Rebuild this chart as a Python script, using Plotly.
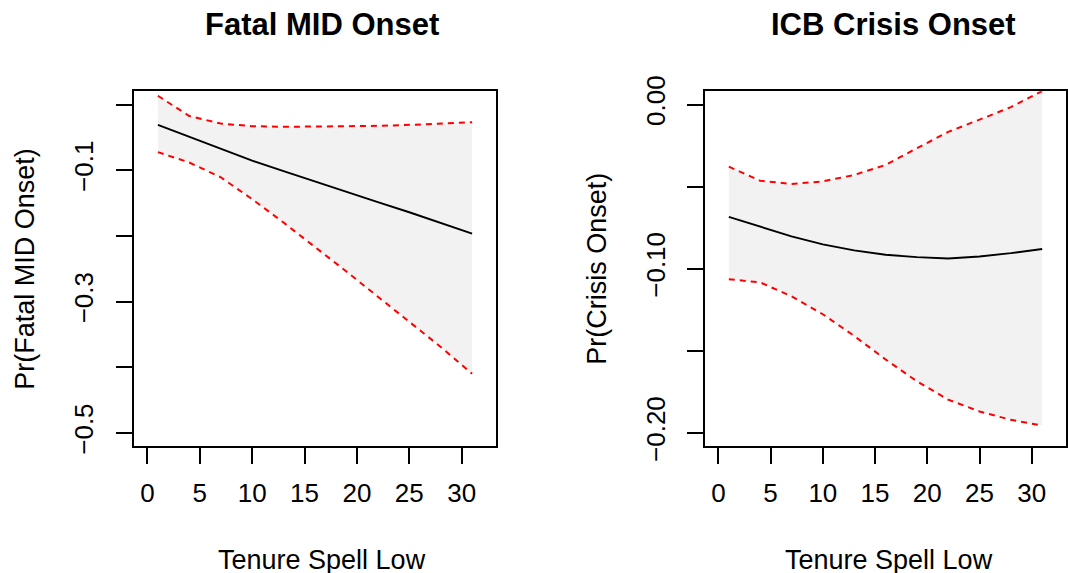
import plotly.graph_objects as go

# ---------------- data ----------------
tenure = [1, 4, 7, 10, 13, 16, 19, 22, 25, 28, 31]

mid_mean = [-0.031, -0.0492, -0.0675, -0.0855, -0.1015, -0.1175, -0.1330, -0.1485, -0.1640, -0.1800, -0.1965]
mid_upper = [0.0133, -0.0175, -0.0290, -0.0330, -0.0340, -0.0338, -0.0335, -0.0325, -0.0310, -0.0290, -0.0270]
mid_lower = [-0.0725, -0.0883, -0.1108, -0.1440, -0.1797, -0.2164, -0.2542, -0.2925, -0.3308, -0.3690, -0.4100]

icb_mean = [-0.0684, -0.0743, -0.0803, -0.0852, -0.0888, -0.0915, -0.0929, -0.0938, -0.0925, -0.0905, -0.0880]
icb_upper = [-0.0378, -0.0464, -0.0484, -0.0468, -0.0429, -0.0368, -0.0266, -0.0167, -0.0092, -0.0016, 0.0082]
icb_lower = [-0.1064, -0.1083, -0.1168, -0.1277, -0.1409, -0.1552, -0.1685, -0.1797, -0.1869, -0.1920, -0.1955]

x_ticks = [0, 5, 10, 15, 20, 25, 30]
mid_yticks = [0.0, -0.1, -0.2, -0.3, -0.4, -0.5]
mid_ytext = ["", "\u22120.1", "", "\u22120.3", "", "\u22120.5"]
icb_yticks = [0.0, -0.05, -0.10, -0.15, -0.20]
icb_ytext = ["0.00", "", "\u22120.10", "", "\u22120.20"]

titles = ["Fatal MID Onset", "ICB Crisis Onset"]
ylabels = ["Pr(Fatal MID Onset)", "Pr(Crisis Onset)"]
xlabel = "Tenure Spell Low"

FONT = "Liberation Sans, Arial, Helvetica, sans-serif"
W, H = 1068, 600


def py(t):
    """paper y-fraction for a target screen row t (empirical page mapping)"""
    return 1 - ((t - 15) / 0.942) / H


fig = go.Figure()

panels = [
    (mid_mean, mid_upper, mid_lower, "x", "y"),
    (icb_mean, icb_upper, icb_lower, "x2", "y2"),
]
for mean, up, lo, xa, ya in panels:
    fig.add_trace(go.Scatter(
        x=tenure + tenure[::-1], y=up + lo[::-1], fill="toself",
        fillcolor="#F2F2F2", line=dict(width=0), mode="lines",
        hoverinfo="skip", showlegend=False, xaxis=xa, yaxis=ya))
    for band in (up, lo):
        fig.add_trace(go.Scatter(
            x=tenure, y=band, mode="lines",
            line=dict(color="#FF0000", width=2, dash="6px,5px"),
            showlegend=False, xaxis=xa, yaxis=ya))
    fig.add_trace(go.Scatter(
        x=tenure, y=mean, mode="lines",
        line=dict(color="black", width=1.9),
        showlegend=False, xaxis=xa, yaxis=ya))

ydom = [py(443), py(90)]
common_axis = dict(
    showgrid=False, zeroline=False, showline=True, mirror=True,
    linecolor="black", linewidth=1.6, ticks="outside", ticklen=16,
    tickwidth=1.6, tickcolor="black",
    tickfont=dict(family=FONT, size=26, color="black"),
)

fig.update_layout(
    width=W, height=H,
    margin=dict(l=0, r=0, t=0, b=0),
    paper_bgcolor="white", plot_bgcolor="white",
    xaxis=dict(domain=[134 / W, 496 / W], range=[-1.28, 33.28],
               tickvals=x_ticks, ticklabelstandoff=7, anchor="y", **common_axis),
    yaxis=dict(domain=ydom, range=[-0.52, 0.02], tickvals=mid_yticks,
               ticktext=mid_ytext, tickangle=-90, ticklabelstandoff=13,
               anchor="x", **common_axis),
    xaxis2=dict(domain=[705 / W, 1066 / W], range=[-1.28, 33.28],
                tickvals=x_ticks, ticklabelstandoff=7, anchor="y2", **common_axis),
    yaxis2=dict(domain=ydom, range=[-0.208, 0.008], tickvals=icb_yticks,
                ticktext=icb_ytext, tickangle=-90, ticklabelstandoff=12,
                anchor="x2", **common_axis),
)

ann = []
for cx, t in zip([322, 893], titles):
    ann.append(dict(text="<b>%s</b>" % t, x=cx / W, y=py(23), xref="paper",
                    yref="paper", xanchor="center", yanchor="middle",
                    showarrow=False, font=dict(family=FONT, size=31, color="black")))
for cx in [322, 889]:
    ann.append(dict(text=xlabel, x=cx / W, y=py(556), xref="paper",
                    yref="paper", xanchor="center", yanchor="middle",
                    showarrow=False, font=dict(family=FONT, size=27, color="black")))
for cx, t in zip([25, 597], ylabels):
    ann.append(dict(text=t, x=cx / W, y=py(266.5), xref="paper",
                    yref="paper", xanchor="center", yanchor="middle", textangle=-90,
                    showarrow=False, font=dict(family=FONT, size=27, color="black")))
fig.update_layout(annotations=ann)

fig.write_html("out.html")
